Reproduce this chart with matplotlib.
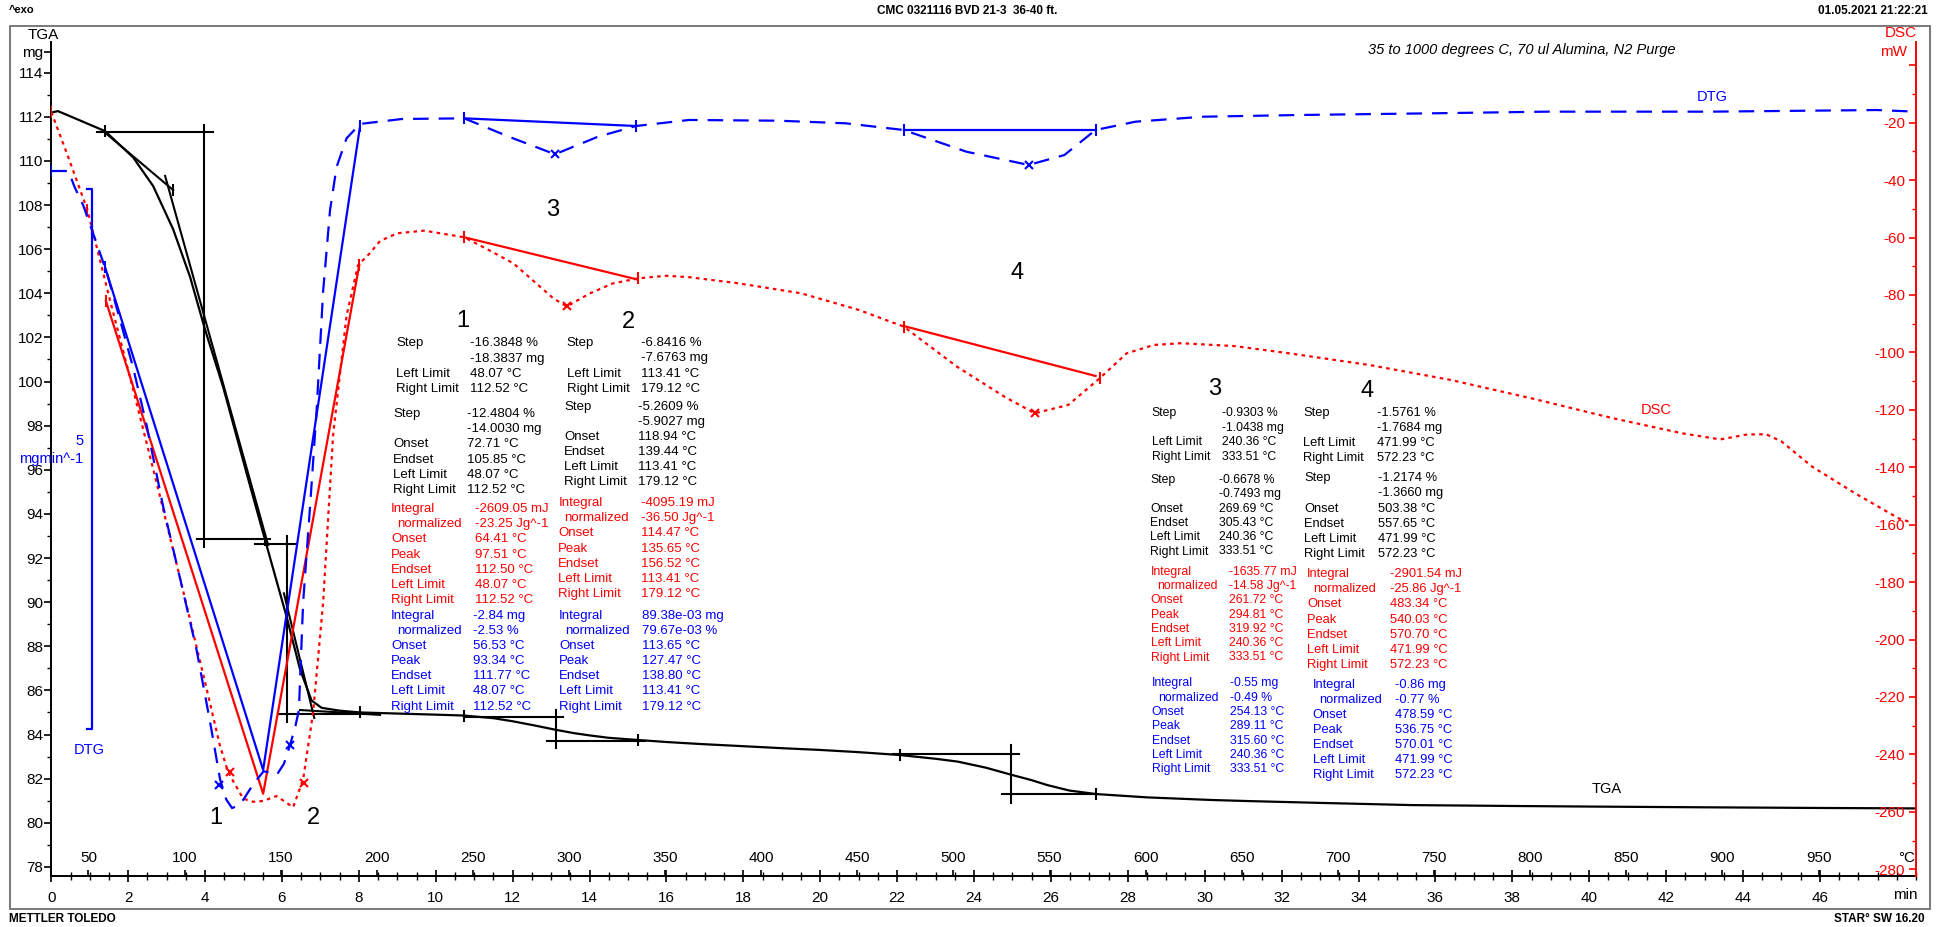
import matplotlib
matplotlib.use("Agg")
import matplotlib.pyplot as plt
from matplotlib.ticker import FixedLocator, FixedFormatter, MultipleLocator, NullFormatter
from matplotlib.patches import Rectangle

W, H = 1946, 927
plt.rcParams['font.family'] = ['Liberation Sans', 'DejaVu Sans']

BLUE = '#0000ff'
RED = '#ff0000'
BLACK = '#000000'

# ---------------------------------------------------------------- data
# temperature program (x-axis secondary scale)
T_START = 30.7      # degC at t = 0 min
RATE = 20.0         # K/min
X_MAX = 48.5        # min

# TGA curve: time (min) / mass (mg)
tga_time = [0.0, 0.17, 0.66, 1.40, 2.13, 2.65, 3.17, 3.61, 4.0, 4.47, 5.08, 5.56, 6.12, 6.47,
            6.77, 7.03, 7.5, 8.03, 9.0, 10.0, 10.73, 11.5, 12.0, 12.6, 13.1, 13.6, 14.0, 14.5,
            15.27, 16.0, 16.87, 18.0, 19.0, 20.0, 21.0, 22.07, 23.0, 23.58, 24.3, 24.98, 25.5,
            25.9, 26.48, 27.18, 28.5, 30.2, 31.2, 33.0, 35.4, 38.0, 40.3, 43.0, 46.0, 48.5]
tga_mass = [112.19, 112.26, 111.9, 111.35, 110.16, 108.86, 106.9, 104.74, 102.35, 99.75, 95.84,
            92.82, 89.34, 86.95, 85.54, 85.21, 85.08, 85.0, 84.95, 84.9, 84.86, 84.74, 84.6, 84.4,
            84.22, 84.06, 83.96, 83.85, 83.75, 83.66, 83.57, 83.47, 83.38, 83.3, 83.2, 83.07, 82.9,
            82.77, 82.5, 82.17, 81.93, 81.71, 81.46, 81.3, 81.15, 81.03, 80.98, 80.9, 80.8, 80.76,
            80.73, 80.7, 80.67, 80.65]

# DSC curve: time (min) / heat flow (mW)
dsc_time = [0.0, 0.4, 0.94, 1.53, 2.13, 2.74, 3.35, 3.95, 4.39, 4.6, 4.99, 5.25, 5.51, 5.86, 6.29,
            6.55, 6.81, 7.07, 7.33, 7.68, 7.98, 8.29, 8.55, 9.0, 9.7, 10.74, 11.4, 12.02, 13.06,
            13.41, 14.0, 14.6, 15.27, 16.0, 16.59, 17.8, 19.5, 21.0, 22.17, 23.56, 24.8, 25.58,
            26.45, 27.27, 27.97, 28.68, 29.38, 30.78, 32.19, 34.29, 36.4, 38.5, 40.61, 42.43,
            43.41, 44.1, 44.6, 45.0, 45.8, 46.92, 48.05, 48.33]
dsc_mw = [-16.3, -30.5, -50.4, -82.0, -113.0, -145.4, -178.7, -212.1, -237.1, -246.2, -255.4,
          -256.5, -256.2, -254.5, -258.4, -248.7, -225.4, -187.1, -128.7, -87.1, -69.6, -65.4,
          -61.2, -58.5, -57.6, -59.9, -64.5, -69.0, -81.2, -84.0, -79.5, -76.0, -74.2, -73.3,
          -73.8, -75.8, -79.4, -85.2, -91.0, -105.0, -115.5, -121.2, -118.3, -109.0, -100.3,
          -97.4, -96.8, -97.8, -100.3, -104.4, -109.6, -116.0, -122.9, -128.2, -130.3, -128.6,
          -128.5, -131.0, -139.8, -149.1, -157.8, -159.0]

# DTG curve: time (min) / mass rate (mg/min)
dtg_time = [0.0, 0.45, 0.6, 0.83, 1.18, 1.44, 1.79, 2.13, 2.48, 2.91, 3.35, 3.78, 4.13, 4.39, 4.55,
            4.70, 4.85, 5.0, 5.25, 5.52, 5.7, 5.87, 6.05, 6.21, 6.35, 6.44, 6.55, 6.73, 6.9, 7.07,
            7.25, 7.42, 7.68, 8.03, 9.12, 10.74, 11.9, 13.1, 14.22, 15.21, 16.59, 18.92, 20.66,
            22.17, 23.8, 25.42, 26.35, 27.16, 28.2, 29.95, 32.47, 36.01, 38.9, 43.19, 47.48, 48.5]
dtg_rate = [-0.556, -0.556, -0.70, -0.874, -1.228, -1.494, -1.938, -2.381, -2.914, -3.667, -4.333,
            -4.997, -5.663, -6.195, -6.38, -6.46, -6.44, -6.38, -6.24, -6.12, -6.13, -6.15, -6.05,
            -5.876, -5.70, -5.551, -4.554, -3.667, -2.780, -1.672, -0.918, -0.519, -0.253, -0.120,
            -0.074, -0.068, -0.238, -0.401, -0.238, -0.139, -0.083, -0.090, -0.114, -0.176, -0.377,
            -0.500, -0.408, -0.176, -0.099, -0.053, -0.037, -0.021, -0.006, -0.006, 0.009, -0.006]

# TGA step evaluation construction lines (time, mg)
tga_constr = [
    [(1.18, 111.29), (4.21, 111.29)], [(3.98, 111.63), (3.98, 92.48)], [(3.78, 92.87), (5.69, 92.87)],
    [(1.40, 111.28), (3.17, 108.68)], [(2.96, 109.32), (5.64, 92.59)],
    [(5.30, 92.64), (6.38, 92.64)], [(6.12, 93.0), (6.12, 84.57)], [(5.92, 84.93), (8.55, 84.93)],
    [(6.05, 90.4), (6.84, 84.75)], [(6.47, 85.11), (8.55, 84.89)],
    [(13.12, 85.11), (13.12, 83.37)], [(10.73, 84.78), (13.3, 84.78)], [(12.89, 83.72), (15.44, 83.72)],
    [(24.95, 83.52), (24.95, 80.91)], [(21.9, 83.1), (25.18, 83.1)], [(24.74, 81.29), (27.18, 81.29)],
]
# integration baselines
dsc_base = [[(1.42, -82.1), (5.51, -253.7), (8.01, -69.6)],
            [(10.74, -59.9), (15.21, -74.5)],
            [(22.17, -90.8), (27.16, -108.2)]]
dtg_base = [[(1.40, -1.45), (5.51, -6.107), (8.03, -0.142)],
            [(10.74, -0.068), (15.21, -0.139)],
            [(22.17, -0.176), (27.16, -0.176)]]
# evaluation markers
tga_lim_t = [1.40, 3.17, 5.56, 8.03, 10.73, 15.27, 22.07, 27.18]
tga_lim_m = [111.35, 108.68, 92.82, 85.0, 84.86, 83.75, 83.07, 81.3]
dsc_lim_t = [0.0, 0.94, 1.42, 8.01, 10.74, 15.27, 22.17, 27.27]
dsc_lim_v = [-16.3, -50.4, -82.1, -69.6, -59.9, -74.2, -91.0, -109.0]
dtg_lim_t = [0.0, 1.40, 8.03, 10.74, 15.21, 22.17, 27.16]
dtg_lim_v = [-0.556, -1.45, -0.142, -0.068, -0.139, -0.176, -0.176]
dsc_peak_t = [4.64, 6.56, 13.41, 25.58]
dsc_peak_v = [-246.0, -249.8, -84.0, -121.2]
dtg_peak_t = [4.36, 6.21, 13.1, 25.42]
dtg_peak_v = [-6.246, -5.876, -0.401, -0.500]
DTG_BAR = 5.0          # mg/min scale bar
DTG_BAR_TOP = -0.7275

# axis tick values
tga_ticks = list(range(78, 115, 2))
dsc_ticks = list(range(-280, 1, 20))
time_ticks = list(range(0, 47, 2))
temp_ticks = list(range(50, 1000, 50))

# evaluation text blocks
B1 = {
    'k1': [("Step", "-16.3848 %"), ("", "-18.3837 mg"), ("Left Limit", "48.07 °C"), ("Right Limit", "112.52 °C")],
    'k2': [("Step", "-12.4804 %"), ("", "-14.0030 mg"), ("Onset", "72.71 °C"), ("Endset", "105.85 °C"),
           ("Left Limit", "48.07 °C"), ("Right Limit", "112.52 °C")],
    'r': [("Integral", "-2609.05 mJ"), ("normalized", "-23.25 Jg^-1"), ("Onset", "64.41 °C"), ("Peak", "97.51 °C"),
          ("Endset", "112.50 °C"), ("Left Limit", "48.07 °C"), ("Right Limit", "112.52 °C")],
    'b': [("Integral", "-2.84 mg"), ("normalized", "-2.53 %"), ("Onset", "56.53 °C"), ("Peak", "93.34 °C"),
          ("Endset", "111.77 °C"), ("Left Limit", "48.07 °C"), ("Right Limit", "112.52 °C")],
}
B2 = {
    'k1': [("Step", "-6.8416 %"), ("", "-7.6763 mg"), ("Left Limit", "113.41 °C"), ("Right Limit", "179.12 °C")],
    'k2': [("Step", "-5.2609 %"), ("", "-5.9027 mg"), ("Onset", "118.94 °C"), ("Endset", "139.44 °C"),
           ("Left Limit", "113.41 °C"), ("Right Limit", "179.12 °C")],
    'r': [("Integral", "-4095.19 mJ"), ("normalized", "-36.50 Jg^-1"), ("Onset", "114.47 °C"), ("Peak", "135.65 °C"),
          ("Endset", "156.52 °C"), ("Left Limit", "113.41 °C"), ("Right Limit", "179.12 °C")],
    'b': [("Integral", "89.38e-03 mg"), ("normalized", "79.67e-03 %"), ("Onset", "113.65 °C"), ("Peak", "127.47 °C"),
          ("Endset", "138.80 °C"), ("Left Limit", "113.41 °C"), ("Right Limit", "179.12 °C")],
}
B3 = {
    'k1': [("Step", "-0.9303 %"), ("", "-1.0438 mg"), ("Left Limit", "240.36 °C"), ("Right Limit", "333.51 °C")],
    'k2': [("Step", "-0.6678 %"), ("", "-0.7493 mg"), ("Onset", "269.69 °C"), ("Endset", "305.43 °C"),
           ("Left Limit", "240.36 °C"), ("Right Limit", "333.51 °C")],
    'r': [("Integral", "-1635.77 mJ"), ("normalized", "-14.58 Jg^-1"), ("Onset", "261.72 °C"), ("Peak", "294.81 °C"),
          ("Endset", "319.92 °C"), ("Left Limit", "240.36 °C"), ("Right Limit", "333.51 °C")],
    'b': [("Integral", "-0.55 mg"), ("normalized", "-0.49 %"), ("Onset", "254.13 °C"), ("Peak", "289.11 °C"),
          ("Endset", "315.60 °C"), ("Left Limit", "240.36 °C"), ("Right Limit", "333.51 °C")],
}
B4 = {
    'k1': [("Step", "-1.5761 %"), ("", "-1.7684 mg"), ("Left Limit", "471.99 °C"), ("Right Limit", "572.23 °C")],
    'k2': [("Step", "-1.2174 %"), ("", "-1.3660 mg"), ("Onset", "503.38 °C"), ("Endset", "557.65 °C"),
           ("Left Limit", "471.99 °C"), ("Right Limit", "572.23 °C")],
    'r': [("Integral", "-2901.54 mJ"), ("normalized", "-25.86 Jg^-1"), ("Onset", "483.34 °C"), ("Peak", "540.03 °C"),
          ("Endset", "570.70 °C"), ("Left Limit", "471.99 °C"), ("Right Limit", "572.23 °C")],
    'b': [("Integral", "-0.86 mg"), ("normalized", "-0.77 %"), ("Onset", "478.59 °C"), ("Peak", "536.75 °C"),
          ("Endset", "570.01 °C"), ("Left Limit", "471.99 °C"), ("Right Limit", "572.23 °C")],
}

# ---------------------------------------------------------------- figure
fig = plt.figure(figsize=(W / 100, H / 100), dpi=100)
fig.patch.set_facecolor('white')


def ftxt(x, y, s, **kw):
    kw.setdefault('va', 'center')
    return fig.text(x / W, 1 - y / H, s, **kw)


AX_L, AX_R, AX_T, AX_B = 51.3, 1916.0, 42.0, 876.0
ax = fig.add_axes([AX_L / W, 1 - AX_B / H, (AX_R - AX_L) / W, (AX_B - AX_T) / H])
ax.set_xlim(0, X_MAX)
ax.set_ylim(77.586, 115.392)
ax.patch.set_alpha(0)

axT = ax.twiny()
axT.set_xlim(T_START, T_START + RATE * X_MAX)
for s in axT.spines.values():
    s.set_visible(False)
axT.spines['top'].set_position(('axes', 0.0))
axT.xaxis.set_major_locator(FixedLocator(temp_ticks))
axT.xaxis.set_major_formatter(FixedFormatter([str(v) for v in temp_ticks]))
axT.tick_params(axis='x', direction='out', length=4, width=1.2, pad=4.0, labelsize=11)

ax2 = ax.twinx()
ax2.set_ylim(-282.34, 8.10)
ax3 = ax.twinx()
ax3.set_ylim(-7.0899, 0.6395)
ax3.axis('off')

# spines
for a in (ax,):
    a.spines['top'].set_visible(False)
    a.spines['right'].set_visible(False)
    a.spines['left'].set_linewidth(1.4)
    a.spines['bottom'].set_linewidth(1.4)
for sname in ('left', 'top', 'bottom'):
    ax2.spines[sname].set_visible(False)
ax2.spines['right'].set_color(RED)
ax2.spines['right'].set_linewidth(1.4)

# TGA axis ticks
ax.yaxis.set_major_locator(FixedLocator(tga_ticks + [114.95]))
ax.yaxis.set_major_formatter(FixedFormatter([str(v) for v in tga_ticks] + ['mg']))
ax.yaxis.set_minor_locator(FixedLocator(list(range(79, 114, 2))))
ax.tick_params(axis='y', which='major', direction='out', length=5, width=1.2, pad=1, labelsize=11)
ax.tick_params(axis='y', which='minor', direction='out', length=3, width=1.0)

# time ticks
ax.xaxis.set_major_locator(FixedLocator(time_ticks))
ax.xaxis.set_major_formatter(FixedFormatter([str(v) for v in time_ticks]))
ax.xaxis.set_minor_locator(MultipleLocator(0.5))
ax.tick_params(axis='x', which='major', direction='inout', length=9, width=1.2, pad=6, labelsize=11)
ax.tick_params(axis='x', which='minor', direction='inout', length=6, width=1.0)

# DSC ticks (labels inside the frame)
ax2.yaxis.set_major_locator(FixedLocator(dsc_ticks))
ax2.yaxis.set_major_formatter(FixedFormatter([str(v) if v != 0 else '' for v in dsc_ticks]))
ax2.yaxis.set_minor_locator(FixedLocator(list(range(-270, 0, 20))))
ax2.tick_params(axis='y', which='major', direction='in', length=5, width=1.2, colors=RED,
                pad=-8, labelsize=11)
ax2.tick_params(axis='y', which='minor', direction='in', length=3, width=1.0, colors=RED)
plt.setp(ax2.get_yticklabels(), ha='right')

# ---------------------------------------------------------------- curves
ax.plot(tga_time, tga_mass, color=BLACK, lw=1.6, zorder=5)
for seg in tga_constr:
    xs, ys = zip(*seg)
    ax.plot(xs, ys, color=BLACK, lw=1.5, zorder=5)
ax.plot(tga_lim_t, tga_lim_m, ls='none', marker='|', ms=9, mew=1.5, color=BLACK, zorder=6)

ax2.plot(dsc_time, dsc_mw, color=RED, lw=1.6, linestyle=(0, (1.6, 1.9)), zorder=5)
for seg in dsc_base:
    xs, ys = zip(*seg)
    ax2.plot(xs, ys, color=RED, lw=1.6, zorder=5)
ax2.plot(dsc_lim_t, dsc_lim_v, ls='none', marker='|', ms=9, mew=1.5, color=RED, zorder=6)
ax2.plot(dsc_peak_t, dsc_peak_v, ls='none', marker='x', ms=6, mew=1.5, color=RED, zorder=6)

ax3.plot(dtg_time, dtg_rate, color=BLUE, lw=1.6, linestyle=(0, (7, 4.5)), zorder=5)
for seg in dtg_base:
    xs, ys = zip(*seg)
    ax3.plot(xs, ys, color=BLUE, lw=1.6, zorder=5)
ax3.plot(dtg_lim_t, dtg_lim_v, ls='none', marker='|', ms=9, mew=1.5, color=BLUE, zorder=6)
ax3.plot(dtg_peak_t, dtg_peak_v, ls='none', marker='x', ms=6, mew=1.5, color=BLUE, zorder=6)

# DTG scale bar (5 mg/min)
ax3.plot([0.936, 1.066, 1.066, 0.936],
         [DTG_BAR_TOP, DTG_BAR_TOP, DTG_BAR_TOP - DTG_BAR, DTG_BAR_TOP - DTG_BAR],
         color=BLUE, lw=1.6, zorder=5)

# ---------------------------------------------------------------- text
ftxt(9, 10, "^exo", fontsize=8, fontweight='bold', ha='left')
ftxt(967, 11, "CMC 0321116 BVD 21-3  36-40 ft.", fontsize=8.5, fontweight='bold', ha='center')
ftxt(1928, 11, "01.05.2021 21:22:21", fontsize=8.5, fontweight='bold', ha='right')
ftxt(9, 919, "METTLER TOLEDO", fontsize=8.5, fontweight='bold', ha='left')
ftxt(1925, 919, "STAR\u00b0 SW 16.20", fontsize=8.5, fontweight='bold', ha='right')
fig.add_artist(Rectangle((9.8 / W, 1 - 909.3 / H), (1929.6 - 9.8) / W, (909.3 - 26) / H,
                         transform=fig.transFigure, fill=False, ec='#6e6e6e', lw=1.3))

ftxt(43.5, 35, "TGA", fontsize=11, ha='center')
ftxt(1901, 33, "DSC", fontsize=11, ha='center', color=RED)
ftxt(1894, 52, "mW", fontsize=11, ha='center', color=RED)
ftxt(1907, 858, "°C", fontsize=11, ha='center')
ftxt(1905, 895, "min", fontsize=11, ha='center')
ftxt(1522, 50, "35 to 1000 degrees C, 70 ul Alumina, N2 Purge", fontsize=10.5, style='italic', ha='center')

ftxt(1712, 97, "DTG", fontsize=10.5, ha='center', color=BLUE)
ftxt(1656, 410, "DSC", fontsize=10.5, ha='center', color=RED)
ftxt(1607, 789, "TGA", fontsize=10.5, ha='center', color=BLACK)

ftxt(80, 441, "5", fontsize=10.5, ha='center', color=BLUE)
ftxt(51, 459, "mgmin^-1", fontsize=10.5, ha='center', color=BLUE)
ftxt(89, 750, "DTG", fontsize=10.5, ha='center', color=BLUE)

for s, x, y in (("3", 552.7, 210), ("4", 1017.4, 273), ("1", 215.6, 818), ("2", 313.8, 818),
                ("1", 463, 321), ("2", 628, 322), ("3", 1214.3, 389), ("4", 1366.7, 391)):
    ftxt(x, y, s, fontsize=17, ha='center')


def block(rows, xl, xv, y0, dy, color, fs, indent=6):
    for i, (lab, val) in enumerate(rows):
        y = y0 + i * dy
        if lab:
            ftxt(xl + (indent if lab == 'normalized' else 0), y, lab, color=color, fontsize=fs)
        ftxt(xv, y, val, color=color, fontsize=fs)


block(B1['k1'], 396, 470, 343.3, 15.3, BLACK, 9.5)
block(B1['k2'], 393.3, 467.3, 414, 15.2, BLACK, 9.5)
block(B1['r'], 391, 475, 509.3, 15.1, RED, 9.5)
block(B1['b'], 391, 473.3, 616, 15.1, BLUE, 9.5)

block(B2['k1'], 566.7, 640.7, 343.3, 15.2, BLACK, 9.5)
block(B2['k2'], 564, 638.3, 407.3, 15.0, BLACK, 9.5)
block(B2['r'], 558.3, 640.7, 503.3, 15.1, RED, 9.5)
block(B2['b'], 559, 641.7, 616, 15.1, BLUE, 9.5)

block(B3['k1'], 1151.7, 1221.7, 413.3, 14.5, BLACK, 8.8)
block(B3['k2'], 1150, 1219.3, 480, 14.3, BLACK, 8.8)
block(B3['r'], 1150.7, 1229.3, 571.7, 14.3, RED, 8.8)
block(B3['b'], 1151.7, 1230, 683.3, 14.3, BLUE, 8.8)

block(B4['k1'], 1303.3, 1376.7, 412.7, 15.1, BLACK, 9.3)
block(B4['k2'], 1304, 1378.3, 478.3, 15.1, BLACK, 9.3)
block(B4['r'], 1307.3, 1390, 574, 15.2, RED, 9.3)
block(B4['b'], 1312.7, 1395, 685, 15.05, BLUE, 9.3)

fig.savefig("out.png", dpi=100, facecolor='white')
